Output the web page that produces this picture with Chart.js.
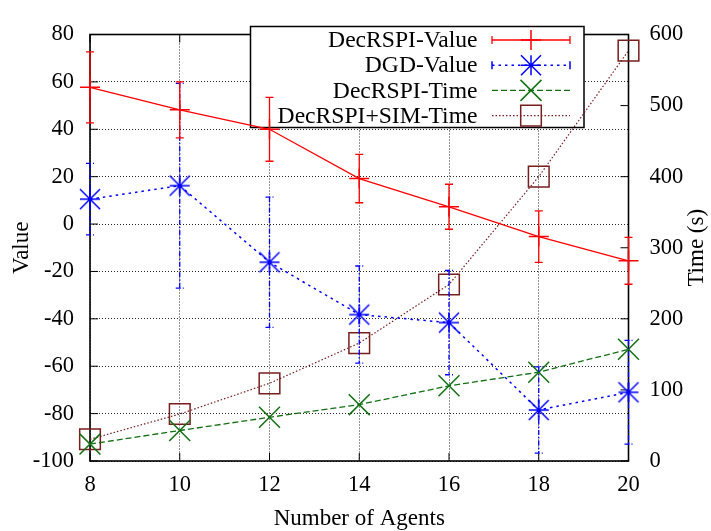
<!DOCTYPE html>
<html>
<head>
<meta charset="utf-8">
<script src="https://cdn.jsdelivr.net/npm/chart.js@4/dist/chart.umd.min.js"></script>
<style>
  html, body { margin: 0; padding: 0; background: #fff; }
  canvas { display: block; }
</style>
</head>
<body>
<canvas id="c" width="711" height="531"></canvas>
<script>
// Number of agents on the x axis
const agents = [8, 10, 12, 14, 16, 18, 20];

// Value (left axis) with standard-deviation error bars
const decrspiValue    = [57.7, 48.2, 40.0, 19.2, 7.3, -5.3, -15.5];
const decrspiValueErr = [15.0, 11.8, 13.5, 10.2, 9.5, 10.9, 9.9];
const dgdValue        = [10.5, 16.2, -16.1, -38.2, -41.6, -78.5, -71.0];
const dgdValueErr     = [15.1, 43.2, 27.5, 20.5, 22.0, 18.2, 21.9];

// Run time in seconds (right axis)
const decrspiTime = [23.8, 42.9, 61.5, 79.3, 105.8, 124.9, 157.2];
const simTime     = [30.6, 66.1, 109.3, 165.9, 248.3, 400.0, 577.3];

// Axis ranges
const valueRange = [-100, 80];
const timeRange  = [0, 600];
const agentRange = [8, 20];

const FONT = '"Liberation Serif", "Times New Roman", Times, serif';
const RED = '#ff0000';
const BLUE = '#0000ff';
const GREEN = '#127012';
const BROWN = '#781e1e';

function series(ys) {
  return agents.map((a, i) => ({ x: a, y: ys[i] }));
}

// Marker shapes shared by the plot points and the key
function drawMarker(ctx, type, x, y, color) {
  ctx.save();
  ctx.setLineDash([]);
  ctx.strokeStyle = color;
  ctx.lineWidth = 1.5;
  ctx.beginPath();
  if (type === 'plus' || type === 'star') {
    ctx.moveTo(x - 10, y); ctx.lineTo(x + 10, y);
    ctx.moveTo(x, y - 10); ctx.lineTo(x, y + 10);
  }
  if (type === 'star') {
    ctx.moveTo(x - 10, y - 10); ctx.lineTo(x + 10, y + 10);
    ctx.moveTo(x - 10, y + 10); ctx.lineTo(x + 10, y - 10);
  }
  if (type === 'x') {
    ctx.moveTo(x - 10.5, y - 10.5); ctx.lineTo(x + 10.5, y + 10.5);
    ctx.moveTo(x - 10.5, y + 10.5); ctx.lineTo(x + 10.5, y - 10.5);
  }
  if (type === 'box') {
    ctx.rect(x - 10.3, y - 10.3, 20.6, 20.6);
  }
  ctx.stroke();
  ctx.restore();
}

// Asterisk point style for the DGD series
const starImg = document.createElement('canvas');
starImg.width = 24; starImg.height = 24;
drawMarker(starImg.getContext('2d'), 'star', 12, 12, BLUE);

const datasets = [
  {
    label: 'DecRSPI-Value', data: series(decrspiValue), errors: decrspiValueErr,
    yAxisID: 'y', borderColor: RED, borderWidth: 1.3, borderDash: [],
    pointStyle: 'cross', pointRadius: 10, pointBorderWidth: 1.5, pointBorderColor: RED,
    marker: 'plus', errDash: [], sampleDash: []
  },
  {
    label: 'DGD-Value', data: series(dgdValue), errors: dgdValueErr,
    yAxisID: 'y', borderColor: BLUE, borderWidth: 1.5, borderDash: [2.5, 4],
    pointStyle: starImg, pointRadius: 10,
    marker: 'star', errDash: [5, 2, 1.5, 2], sampleDash: [2.5, 4]
  },
  {
    label: 'DecRSPI-Time', data: series(decrspiTime),
    yAxisID: 'y1', borderColor: GREEN, borderWidth: 1.3, borderDash: [6, 3],
    pointStyle: 'crossRot', pointRadius: 14.8, pointBorderWidth: 1.5, pointBorderColor: GREEN,
    marker: 'x', sampleDash: [6, 3]
  },
  {
    label: 'DecRSPI+SIM-Time', data: series(simTime),
    yAxisID: 'y1', borderColor: BROWN, borderWidth: 1.2, borderDash: [1.5, 2],
    pointStyle: 'rect', pointRadius: 14.6, pointBorderWidth: 1.5, pointBorderColor: BROWN,
    pointBackgroundColor: 'rgba(0,0,0,0)',
    marker: 'box', sampleDash: [1.5, 2]
  }
];
datasets.forEach(d => { d.fill = false; d.tension = 0; d.clip = false; d.backgroundColor = 'rgba(0,0,0,0)'; });

// White page background
const background = {
  id: 'background',
  beforeDraw(chart) {
    const ctx = chart.ctx;
    ctx.save();
    ctx.fillStyle = '#fff';
    ctx.fillRect(0, 0, chart.width, chart.height);
    ctx.restore();
  }
};

// Plot frame with inward tick marks, then the opaque key box
const frameAndKey = {
  id: 'frameAndKey',
  beforeDatasetsDraw(chart) {
    const ctx = chart.ctx;
    const a = chart.chartArea;
    const sx = chart.scales.x, sy = chart.scales.y, sy1 = chart.scales.y1;
    const T = 8;
    ctx.save();
    ctx.setLineDash([]);
    ctx.strokeStyle = '#000';
    ctx.lineWidth = 1;
    ctx.beginPath();
    sx.ticks.forEach(t => {
      const px = sx.getPixelForValue(t.value);
      ctx.moveTo(px, a.bottom); ctx.lineTo(px, a.bottom - T);
      ctx.moveTo(px, a.top); ctx.lineTo(px, a.top + T);
    });
    sy.ticks.forEach(t => {
      const py = sy.getPixelForValue(t.value);
      ctx.moveTo(a.left, py); ctx.lineTo(a.left + T, py);
    });
    sy1.ticks.forEach(t => {
      const py = sy1.getPixelForValue(t.value);
      ctx.moveTo(a.right, py); ctx.lineTo(a.right - T, py);
    });
    ctx.stroke();
    ctx.lineWidth = 1.6;
    ctx.strokeRect(a.left, a.top, a.right - a.left, a.bottom - a.top);

    // key
    const box = { l: 250.5, t: 26.5, r: 584, b: 127.5 };
    ctx.fillStyle = '#fff';
    ctx.fillRect(box.l, box.t, box.r - box.l, box.b - box.t);
    ctx.lineWidth = 1.5;
    ctx.strokeStyle = '#000';
    ctx.strokeRect(box.l, box.t, box.r - box.l, box.b - box.t);
    ctx.font = '23.6px ' + FONT;
    ctx.textAlign = 'right';
    ctx.textBaseline = 'middle';
    const x0 = 492, x1 = 570, xm = 531;
    chart.data.datasets.forEach((d, i) => {
      const y = 40 + i * 25.2;
      ctx.fillStyle = '#000';
      ctx.fillText(d.label, 477.5, y + 1);
      ctx.strokeStyle = d.borderColor;
      ctx.lineWidth = d.borderWidth;
      ctx.setLineDash(d.sampleDash);
      ctx.beginPath();
      ctx.moveTo(x0, y); ctx.lineTo(x1, y);
      ctx.stroke();
      if (d.errors) {
        ctx.setLineDash([]);
        ctx.beginPath();
        ctx.moveTo(x0, y - 4); ctx.lineTo(x0, y + 4);
        ctx.moveTo(x1, y - 4); ctx.lineTo(x1, y + 4);
        ctx.stroke();
      }
      drawMarker(ctx, d.marker, xm, y, d.borderColor);
    });
    ctx.restore();
  }
};

// Vertical error bars with small caps, drawn with each series
const errorBars = {
  id: 'errorBars',
  afterDatasetDraw(chart, args) {
    const d = chart.data.datasets[args.index];
    if (!d.errors) return;
    const ctx = chart.ctx;
    const scale = chart.scales[d.yAxisID];
    ctx.save();
    ctx.strokeStyle = d.borderColor;
    ctx.lineWidth = 1.3;
    ctx.setLineDash(d.errDash);
    args.meta.data.forEach((pt, i) => {
      const v = d.data[i].y, e = d.errors[i];
      const top = scale.getPixelForValue(v + e);
      const bot = scale.getPixelForValue(v - e);
      ctx.beginPath();
      ctx.moveTo(pt.x, top); ctx.lineTo(pt.x, bot);
      ctx.moveTo(pt.x - 4, top); ctx.lineTo(pt.x + 4, top);
      ctx.moveTo(pt.x - 4, bot); ctx.lineTo(pt.x + 4, bot);
      ctx.stroke();
    });
    ctx.restore();
  }
};

// Right-hand axis title, reading bottom to top
const rightTitle = {
  id: 'rightTitle',
  afterDraw(chart) {
    const ctx = chart.ctx;
    const a = chart.chartArea;
    ctx.save();
    ctx.translate(697, (a.top + a.bottom) / 2);
    ctx.rotate(-Math.PI / 2);
    ctx.font = '23px ' + FONT;
    ctx.fillStyle = '#000';
    ctx.textAlign = 'center';
    ctx.textBaseline = 'middle';
    ctx.fillText('Time (s)', 0, 0);
    ctx.restore();
  }
};

const tickFont = { family: FONT, size: 22.5, lineHeight: 1.2 };
const titleFont = { family: FONT, size: 23, lineHeight: 1 };
const gridColor = 'rgba(0,0,0,0.85)';

new Chart(document.getElementById('c'), {
  type: 'line',
  data: { datasets },
  options: {
    responsive: false,
    animation: false,
    events: [],
    layout: { padding: { top: 22, left: 0, right: 0, bottom: 0 } },
    plugins: { legend: { display: false }, tooltip: { enabled: false } },
    scales: {
      x: {
        type: 'linear', position: 'bottom', min: agentRange[0], max: agentRange[1],
        ticks: { stepSize: 2, font: tickFont, color: '#000', padding: 10.5, maxRotation: 0 },
        grid: { color: gridColor, lineWidth: 1, drawTicks: false },
        border: { display: false, dash: [1, 2] },
        title: { display: true, text: 'Number of Agents', color: '#000', font: titleFont, padding: { top: 0, bottom: 0.5 } },
        afterFit: s => { s.height = 70; }
      },
      y: {
        type: 'linear', position: 'left', min: valueRange[0], max: valueRange[1],
        ticks: { stepSize: 20, font: tickFont, color: '#000', padding: 16 },
        grid: { color: gridColor, lineWidth: 1, drawTicks: false },
        border: { display: false, dash: [1, 2] },
        title: { display: true, text: 'Value', color: '#000', font: titleFont, padding: { top: 10, bottom: 0 } },
        afterFit: s => { s.width = 90; }
      },
      y1: {
        type: 'linear', position: 'right', min: timeRange[0], max: timeRange[1],
        ticks: { stepSize: 100, font: tickFont, color: '#000', padding: 21 },
        grid: { display: false, drawOnChartArea: false, drawTicks: false },
        border: { display: false },
        afterFit: s => { s.width = 82.5; }
      }
    }
  },
  plugins: [background, frameAndKey, errorBars, rightTitle]
});
</script>
</body>
</html>
